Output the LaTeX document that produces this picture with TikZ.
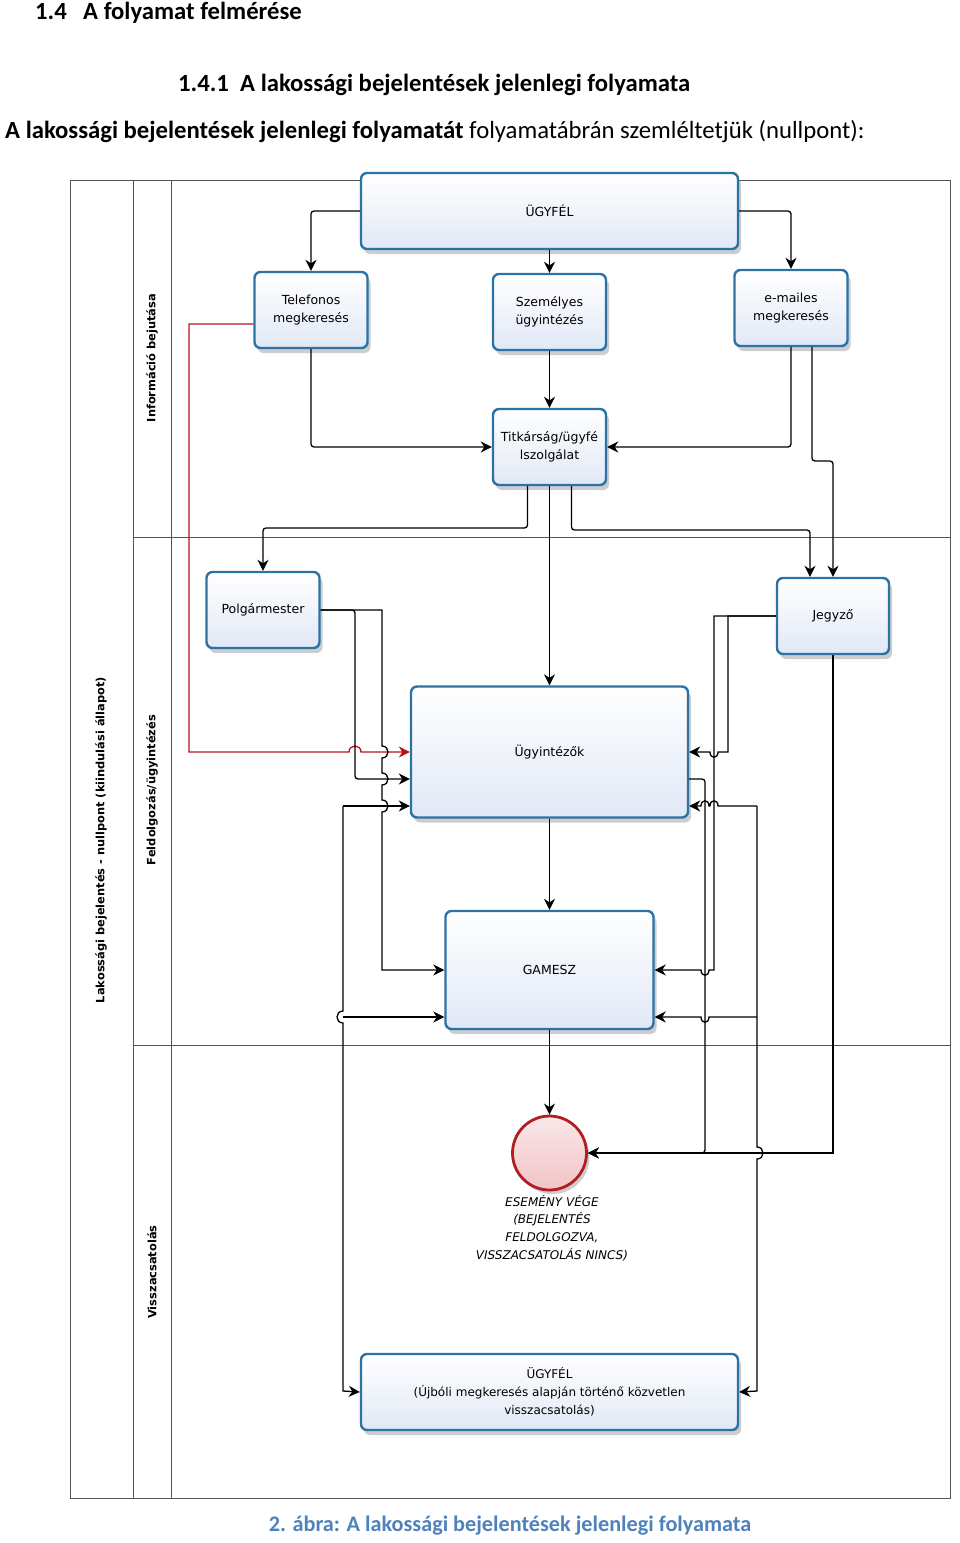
\documentclass[tikz,border=0pt]{standalone}
\usepackage{fontspec}
\setmainfont{Carlito}
\newfontfamily\dfont{DejaVu Sans}
\usetikzlibrary{arrows.meta,shadows,calc}
\definecolor{boxblue}{HTML}{2B73A6}
\definecolor{boxfill}{HTML}{E1E8F6}
\definecolor{endred}{HTML}{B01E23}
\definecolor{endfill}{HTML}{F2C4C6}
\definecolor{capblue}{HTML}{4F81BD}
\definecolor{redline}{HTML}{B3141C}
\definecolor{lanegray}{HTML}{555555}
\tikzset{
  box/.style={draw=boxblue, line width=2.4pt, rounded corners=6pt,
    top color=white, bottom color=boxfill,
    drop shadow={shadow xshift=3pt, shadow yshift=-5pt, opacity=0.28, fill=black!70},
    align=center, inner sep=0pt, font=\dfont\fontsize{12.5}{17.5}\selectfont},
  endc/.style={circle, draw=endred, line width=2.8pt, minimum size=74pt, inner sep=0pt,
    top color=endfill!40, bottom color=endfill,
    drop shadow={shadow xshift=3pt, shadow yshift=-4pt, opacity=0.28, fill=black!70}},
  con/.style={draw=black, line width=1.3pt, rounded corners=3pt},
  arr/.style={-{Stealth[length=11pt,width=11pt,inset=3.5pt]}},
  lanelbl/.style={font=\dfont\bfseries\fontsize{11.4}{13}\selectfont, rotate=90, inner sep=0pt},
  lane/.style={draw=lanegray, line width=1pt},
  head/.style={anchor=base west, inner sep=0pt, font=\fontsize{24.7}{28}\selectfont\bfseries},
}
\begin{document}
\begin{tikzpicture}[x=1pt,y=-1pt]
\useasboundingbox (0,0) rectangle (960,1543);
% headings
\node[head] (h1a) at (35,19) {1.4};
\node[head] (h1b) at (83,19) {A folyamat felmérése};
\node[head] (h2a) at (178,91) {1.4.1};
\node[head] (h2b) at (240,91) {A lakossági bejelentések jelenlegi folyamata};
\node[anchor=base west, inner sep=0pt, font=\fontsize{24.7}{28}\selectfont] (intro) at (5,138)
  {\textbf{A lakossági bejelentések jelenlegi folyamatát} folyamatábrán szemléltetjük (nullpont):};
% swimlane frame
\draw[lane] (70,180) rectangle (950,1498);
\draw[lane] (133,180) -- (133,1498);
\draw[lane] (171,180) -- (171,1498);
\draw[lane] (133,537) -- (950,537);
\draw[lane] (133,1045) -- (950,1045);
\node[lanelbl] (l0) at (101,840) {Lakossági bejelentés - nullpont (kiindulási állapot)};
\node[lanelbl] (l1) at (152,358) {Információ bejutása};
\node[lanelbl] (l2) at (152,790) {Feldolgozás/ügyintézés};
\node[lanelbl] (l3) at (152,1272) {Visszacsatolás};
% nodes
\node[box, minimum width=377pt, minimum height=76pt] (ug1) at (549.5,211) {ÜGYFÉL};
\node[box, minimum width=113pt, minimum height=76pt] (tel) at (311,310) {Telefonos\\megkeresés};
\node[box, minimum width=113pt, minimum height=76pt] (sz) at (549.5,312) {Személyes\\ügyintézés};
\node[box, minimum width=113pt, minimum height=76pt] (em) at (791,308) {e-mailes\\megkeresés};
\node[box, minimum width=113pt, minimum height=76pt] (tit) at (549.5,447) {Titkárság/ügyfé\\lszolgálat};
\node[box, minimum width=113pt, minimum height=76pt] (pol) at (263,610) {Polgármester};
\node[box, minimum width=112pt, minimum height=76pt] (jeg) at (833,616) {Jegyző};
\node[box, minimum width=277pt, minimum height=131pt] (ugyint) at (549.5,752) {Ügyintézők};
\node[box, minimum width=208pt, minimum height=118pt] (gam) at (549.5,970) {GAMESZ};
\node[endc] (evend) at (549.5,1153) {};
\node[align=center, inner sep=0pt, font=\dfont\itshape\fontsize{12}{17.6}\selectfont] (evtxt) at (552,1228)
  {ESEMÉNY VÉGE\\(BEJELENTÉS\\FELDOLGOZVA,\\VISSZACSATOLÁS NINCS)};
\node[box, minimum width=377pt, minimum height=76pt, font=\dfont\fontsize{12}{18}\selectfont] (ug2) at (549.5,1392)
  {ÜGYFÉL\\(Újbóli megkeresés alapján történő közvetlen\\visszacsatolás)};
% top connectors
\draw[con,arr] (ug1.west) -| (tel.north);
\draw[con,arr] (ug1.south) -- (sz.north);
\draw[con,arr] (ug1.east) -| (em.north);
\draw[con,arr] (tel.south) |- (tit.west);
\draw[con,arr] (sz.south) -- (tit.north);
\draw[con,arr] (em.south) |- (tit.east);
\draw[con,arr] ($(tit.south)+(-22,0)$) |- (263,528) -- (pol.north);
\draw[con,arr] (tit.south) -- (ugyint.north);
\draw[con,arr] ($(tit.south)+(22,0)$) |- (810,530) -- ($(jeg.north)+(-23,0)$);
\draw[con,arr] ($(em.south)+(21,0)$) |- (833,461) -- (jeg.north);
% red connector
\draw[con,sharp corners,draw=redline,arr] ($(tel.west)+(0,14)$) -- (189,324) -- (189,752) -- (349,752)
  .. controls (349,744) and (361,744) .. (361,752) -- (ugyint.west);
% Polgarmester connectors
\draw[con,arr] (pol.east) -- (355,610) -- (355,779) -- ($(ugyint.west)+(0,27)$);
\draw[con,sharp corners,arr] (pol.east) -- (382,610) -- (382,746)
  .. controls (390,746) and (390,758) .. (382,758) -- (382,773)
  .. controls (390,773) and (390,785) .. (382,785) -- (382,800)
  .. controls (390,800) and (390,812) .. (382,812) -- (382,970) -- (gam.west);
% left feedback line
\coordinate (L1) at (343,806);
\coordinate (L2) at (343,1017);
\draw[con,arr] (L1) -- ($(ugyint.west)+(0,54)$);
\draw[con,sharp corners,arr] (L1) -- (343,1011) .. controls (335,1011) and (335,1023) .. (343,1023)
  -- (343,1391) -- (ug2.west);
\draw[con,arr] (L2) -- ($(gam.west)+(0,47)$);
% Jegyzo connectors
\draw[con,sharp corners,arr] (jeg.west) -- (728,616) -- (728,752) -- (718,752)
  .. controls (718,759) and (710,759) .. (710,752) -- (ugyint.east);
\draw[con,sharp corners,arr] (jeg.west) -- (714,616) -- (714,970) -- (709,970)
  .. controls (709,977) and (701,977) .. (701,970) -- (gam.east);
\draw[con,sharp corners,arr] (jeg.south) -- (833,1153) -- (763,1153) -- (evend.east);
% Ugyintezok -> end
\draw[con,arr] ($(ugyint.east)+(0,27)$) -- (705,779) -- (705,1153) -- (evend.east);
% right feedback line
\coordinate (R1) at (757,806);
\coordinate (R2) at (757,1017);
\draw[con,sharp corners,arr] (R1) -- (718,806) .. controls (718,799) and (710,799) .. (710,806)
  -- (709,806) .. controls (709,799) and (701,799) .. (701,806) -- ($(ugyint.east)+(0,54)$);
\draw[con,sharp corners,arr] (R1) -- (757,1147) .. controls (765,1147) and (765,1159) .. (757,1159)
  -- (757,1391) -- (ug2.east);
\draw[con,sharp corners,arr] (R2) -- (709,1017) .. controls (709,1024) and (701,1024) .. (701,1017)
  -- ($(gam.east)+(0,47)$);
% vertical flows
\draw[con,arr] (ugyint.south) -- (gam.north);
\draw[con,arr] (gam.south) -- (evend.north);
% caption
\node[anchor=base, inner sep=0pt, text=capblue, font=\fontsize{22.2}{26}\selectfont\bfseries] (cap) at (510,1531)
  {2. ábra: A lakossági bejelentések jelenlegi folyamata};
\end{tikzpicture}
\end{document}
